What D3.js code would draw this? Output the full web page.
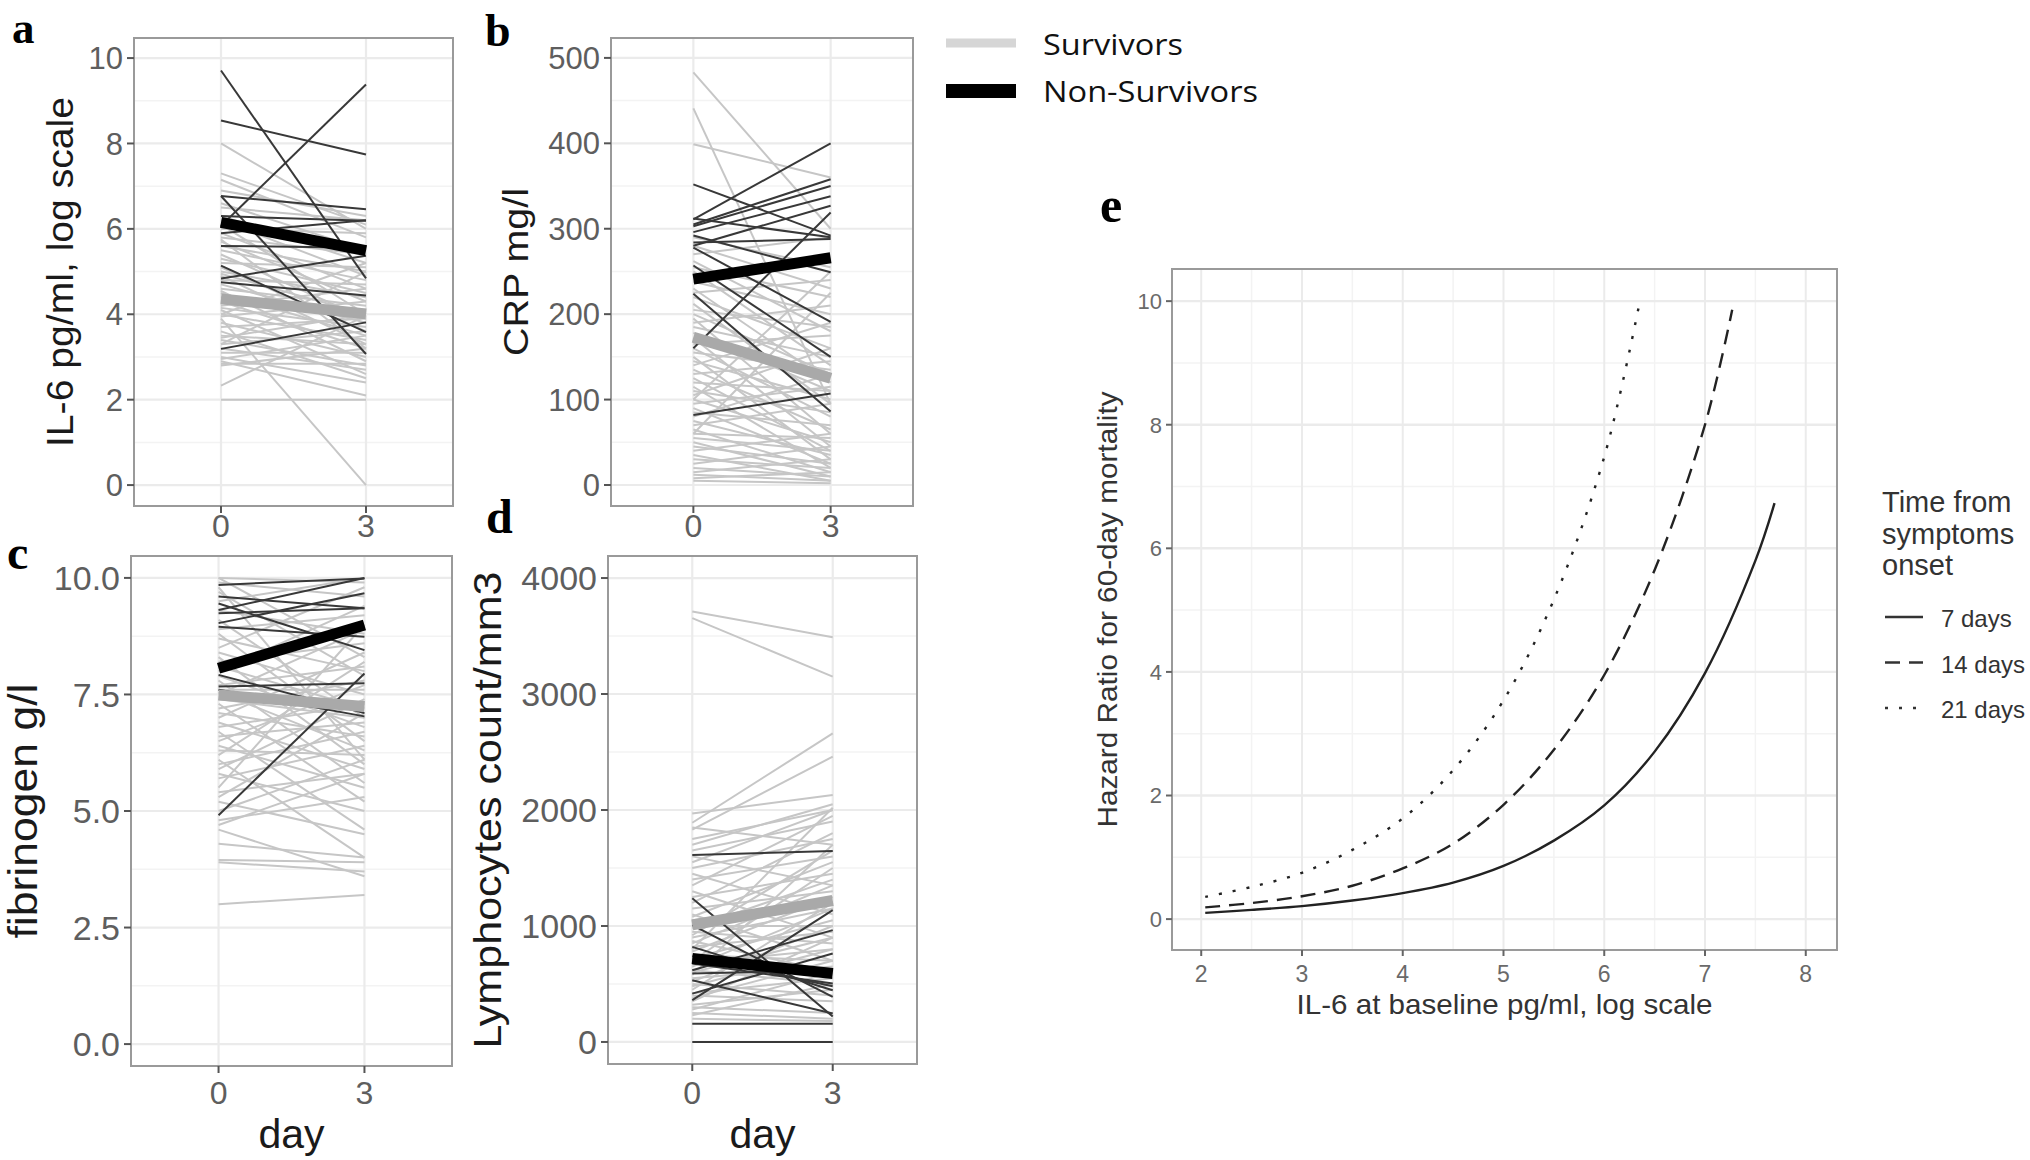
<!DOCTYPE html>
<html><head><meta charset="utf-8">
<script src="https://cdn.jsdelivr.net/npm/d3@7"></script>
<style>body{margin:0;background:#fff;} svg{display:block;}</style>
</head><body>
<svg id="chart" width="2030" height="1160"></svg>
<script>
// ---------------- DATA ----------------
const days = [0, 3];

// panel a: IL-6 pg/ml (log scale) [day0, day3]
const il6Survivors = [[8.0,6.0],[7.3,6.1],[7.15,5.8],[6.9,6.3],[6.6,5.5],[6.5,6.2],[6.3,5.2],[6.2,4.9],[6.0,5.9],[5.9,4.6],[5.8,5.4],[5.7,4.3],[5.6,5.0],[5.5,4.8],[5.4,3.9],[5.3,4.5],[5.2,5.1],[5.1,3.6],[5.0,4.4],[4.95,4.0],[4.9,3.3],[4.8,4.7],[4.7,3.8],[4.6,4.2],[4.55,2.9],[4.5,3.5],[4.4,4.1],[4.3,3.2],[4.2,4.6],[4.15,3.7],[4.1,2.6],[4.0,3.4],[3.95,4.3],[3.9,0.0],[3.8,3.0],[3.7,3.9],[3.6,2.5],[3.5,3.3],[3.45,4.0],[3.4,2.8],[3.3,3.6],[3.2,2.7],[3.1,3.1],[3.0,2.4],[2.95,3.5],[2.9,2.1],[2.84,2.84],[2.8,3.2],[2.33,3.97],[2.0,2.0],[5.75,3.2],[6.1,4.0],[4.0,5.2],[3.3,5.0]];
const il6NonSurvivors = [[9.71,4.84],[6.07,9.38],[8.54,7.74],[6.77,6.46],[6.77,3.07],[6.3,6.19],[5.6,5.56],[4.84,5.37],[4.75,4.44],[3.19,3.81],[5.14,3.58],[5.9,6.2]];
const il6SurvMean = [4.36, 4.01];
const il6NonSurvMean = [6.15, 5.49];
const il6Ticks = [0, 2, 4, 6, 8, 10];

// panel b: CRP mg/l
const crpSurvivors = [[483,300],[441,95],[399,360],[290,255],[280,230],[270,290],[262,180],[255,220],[250,140],[245,265],[238,200],[230,120],[225,240],[220,160],[212,95],[205,185],[200,130],[195,60],[190,210],[185,150],[178,110],[172,45],[165,175],[160,80],[155,135],[150,30],[145,100],[140,190],[135,65],[130,145],[125,40],[120,110],[115,20],[110,85],[105,160],[100,50],[95,115],[90,25],[85,70],[80,130],[75,35],[70,95],[65,15],[60,55],[55,40],[50,10],[45,25],[40,60],[35,5],[30,20],[25,45],[20,10],[15,30],[12,5],[8,15],[5,2],[60,225],[100,250]];
const crpNonSurvivors = [[352,292],[311,400],[305,358],[303,350],[296,338],[284,288],[280,327],[278,191],[257,150],[224,86],[160,319],[82,107],[292,249],[312,290]];
const crpSurvMean = [173, 125];
const crpNonSurvMean = [241, 266];
const crpTicks = [0, 100, 200, 300, 400, 500];

// panel c: fibrinogen g/l
const fibSurvivors = [[10.0,8.3],[9.9,9.6],[9.7,7.9],[9.5,10.0],[9.3,8.8],[9.1,7.0],[8.9,9.2],[8.8,6.5],[8.7,8.0],[8.5,9.8],[8.4,7.5],[8.3,6.0],[8.2,8.6],[8.1,7.2],[8.0,9.4],[7.9,6.8],[7.8,5.6],[7.7,8.1],[7.6,7.6],[7.55,6.3],[7.5,8.9],[7.4,7.0],[7.3,5.2],[7.2,7.8],[7.1,6.6],[7.0,8.4],[6.9,5.9],[6.8,7.3],[6.7,4.6],[6.6,6.9],[6.5,7.7],[6.4,5.5],[6.3,6.2],[6.2,8.2],[6.1,4.0],[6.0,6.7],[5.9,7.4],[5.8,5.0],[5.7,6.4],[5.5,9.0],[5.4,5.8],[5.3,7.1],[5.2,4.5],[5.0,6.1],[4.8,5.3],[4.7,5.8],[4.6,3.6],[4.3,4.0],[3.95,3.9],[3.9,3.7],[3.0,3.2],[9.8,6.1],[10.0,9.9]];
const fibNonSurvivors = [[4.91,7.95],[9.85,9.99],[9.6,9.35],[9.31,10.0],[9.03,9.67],[9.45,8.45],[7.67,7.74],[7.92,7.1],[9.24,9.35],[8.95,8.74],[7.6,7.03]];
const fibSurvMean = [7.49, 7.24];
const fibNonSurvMean = [8.06, 8.99];
const fibTicks = [0, 2.5, 5, 7.5, 10];

// panel d: Lymphocytes count/mm3
const lymSurvivors = [[3712,3490],[3655,3150],[1890,2660],[1970,2130],[1830,2460],[1850,1700],[1700,2050],[1650,1900],[1600,1350],[1550,2000],[1500,1750],[1450,1100],[1400,1600],[1350,1950],[1300,900],[1250,1450],[1200,1800],[1150,1300],[1100,700],[1080,1550],[1050,1200],[1000,1000],[980,1400],[950,850],[920,1650],[900,1150],[870,600],[850,1350],[820,950],[800,2020],[780,1250],[750,700],[720,1050],[700,1500],[680,800],[650,1150],[620,500],[600,900],[580,1700],[550,650],[520,1000],[500,400],[480,800],[450,1200],[420,550],[400,350],[380,700],[350,900],[320,450],[300,250],[280,600],[250,200],[230,500],[200,180],[1750,2000]];
const lymNonSurvivors = [[0,0],[158,158],[1612,1646],[1240,220],[360,1137],[1007,389],[619,964],[590,619],[532,245],[820,446],[676,504],[417,763],[740,480]];
const lymSurvMean = [1010, 1220];
const lymNonSurvMean = [720, 590];
const lymTicks = [0, 1000, 2000, 3000, 4000];

// panel e: hazard ratio curves
const hrXTicks = [2, 3, 4, 5, 6, 7, 8];
const hrYTicks = [0, 2, 4, 6, 8, 10];
const hr7x  = [2.04, 2.5, 3, 3.5, 4, 4.5, 5, 5.5, 6, 6.5, 7, 7.5, 7.69];
const hr7y  = [0.10, 0.15, 0.21, 0.30, 0.42, 0.59, 0.86, 1.27, 1.84, 2.71, 3.98, 5.80, 6.73];
const hr14x = [2.04, 2.5, 3, 3.5, 4, 4.5, 5, 5.5, 6, 6.5, 7, 7.27];
const hr14y = [0.19, 0.26, 0.37, 0.54, 0.82, 1.22, 1.85, 2.74, 3.95, 5.65, 8.0, 9.86];
const hr21x = [2.04, 2.5, 3, 3.5, 4, 4.5, 5, 5.5, 6, 6.35];
const hr21y = [0.36, 0.52, 0.75, 1.12, 1.63, 2.41, 3.54, 5.17, 7.48, 9.97];
const hrLegend = ["7 days", "14 days", "21 days"];

// ---------------- DRAW ----------------
const svg = d3.select("#chart");
const SANS = "'Liberation Sans', Arial, Helvetica, sans-serif";
const GRID_MAJ = "#ebebeb", GRID_MIN = "#f3f3f3", BORDER = "#9a9a9a";

function drawPanel(p) {
  const g = svg.append("g");
  const x = d3.scaleLinear().domain([-1.8, 4.8]).range([p.l, p.r]);
  const y = d3.scaleLinear().domain(p.yDom).range([p.b, p.t]);
  const step = p.ticks[1] - p.ticks[0];
  const minor = p.ticks.slice(0, -1).map(t => t + step / 2);
  g.selectAll(".mn").data(minor).enter().append("line")
    .attr("x1", p.l).attr("x2", p.r).attr("y1", d => y(d)).attr("y2", d => y(d))
    .attr("stroke", GRID_MIN).attr("stroke-width", 1.5);
  g.selectAll(".mj").data(p.ticks).enter().append("line")
    .attr("x1", p.l).attr("x2", p.r).attr("y1", d => y(d)).attr("y2", d => y(d))
    .attr("stroke", GRID_MAJ).attr("stroke-width", 2.2);
  g.selectAll(".mx").data(days).enter().append("line")
    .attr("y1", p.t).attr("y2", p.b).attr("x1", d => x(d)).attr("x2", d => x(d))
    .attr("stroke", GRID_MAJ).attr("stroke-width", 2.2);
  const seg = (arr) => "M" + x(days[0]) + "," + y(arr[0]) + "L" + x(days[1]) + "," + y(arr[1]);
  g.selectAll(".s").data(p.surv).enter().append("path").attr("d", seg)
    .attr("stroke", "#c6c6c6").attr("stroke-width", 2).attr("fill", "none");
  g.selectAll(".n").data(p.non).enter().append("path").attr("d", seg)
    .attr("stroke", "#383838").attr("stroke-width", 2).attr("fill", "none");
  g.append("path").attr("d", seg(p.survMean)).attr("stroke", "#a9a9a9").attr("stroke-width", 11).attr("fill", "none");
  g.append("path").attr("d", seg(p.nonMean)).attr("stroke", "#000").attr("stroke-width", 11).attr("fill", "none");
  g.append("rect").attr("x", p.l).attr("y", p.t).attr("width", p.r - p.l).attr("height", p.b - p.t)
    .attr("fill", "none").attr("stroke", BORDER).attr("stroke-width", 2);
  g.selectAll(".yt").data(p.ticks).enter().append("line")
    .attr("x1", p.l - 7).attr("x2", p.l).attr("y1", d => y(d)).attr("y2", d => y(d))
    .attr("stroke", "#555").attr("stroke-width", 2);
  g.selectAll(".yl").data(p.ticks).enter().append("text")
    .attr("x", p.l - 11).attr("y", d => y(d)).attr("dy", "0.36em")
    .attr("text-anchor", "end").attr("font-family", SANS).attr("font-size", p.ytSize)
    .attr("fill", "#5e5e5e").text(p.fmt);
  g.selectAll(".xt").data(days).enter().append("line")
    .attr("y1", p.b).attr("y2", p.b + 7).attr("x1", d => x(d)).attr("x2", d => x(d))
    .attr("stroke", "#555").attr("stroke-width", 2);
  g.selectAll(".xl").data(days).enter().append("text")
    .attr("x", d => x(d)).attr("y", p.xlY).attr("text-anchor", "middle")
    .attr("font-family", SANS).attr("font-size", 32).attr("fill", "#5e5e5e").text(d => d);
  g.append("text").attr("transform", `translate(${p.titleX},${(p.t + p.b) / 2}) rotate(-90)`)
    .attr("text-anchor", "middle").attr("font-family", SANS).attr("font-size", p.titleSize)
    .attr("textLength", p.titleLen).attr("lengthAdjust", "spacingAndGlyphs")
    .attr("fill", "#1a1a1a").text(p.title);
  if (p.day) {
    g.append("text").attr("x", (x(days[0]) + x(days[1])) / 2).attr("y", p.dayY)
      .attr("text-anchor", "middle").attr("font-family", SANS).attr("font-size", 41)
      .attr("fill", "#1a1a1a").text("day");
  }
  svg.append("text").attr("x", p.labX).attr("y", p.labY).attr("font-family", "'Liberation Serif', 'Times New Roman', serif")
    .attr("font-weight", "bold").attr("font-size", p.labSize).attr("fill", "#000").text(p.letter);
}

drawPanel({l:134, r:453, t:38, b:506, yDom:[-0.49, 10.47], ticks:il6Ticks, fmt:d3.format("d"), ytSize:31,
  surv:il6Survivors, non:il6NonSurvivors, survMean:il6SurvMean, nonMean:il6NonSurvMean,
  xlY:537, title:"IL-6 pg/ml, log scale", titleX:73, titleSize:36, titleLen:350, day:false,
  letter:"a", labX:12, labY:43, labSize:45});
drawPanel({l:611, r:913, t:38, b:506, yDom:[-24.6, 523.3], ticks:crpTicks, fmt:d3.format("d"), ytSize:31,
  surv:crpSurvivors, non:crpNonSurvivors, survMean:crpSurvMean, nonMean:crpNonSurvMean,
  xlY:537, title:"CRP mg/l", titleX:528, titleSize:35, titleLen:168, day:false,
  letter:"b", labX:485, labY:46, labSize:46});
drawPanel({l:131, r:452, t:556, b:1066, yDom:[-0.47, 10.47], ticks:fibTicks, fmt:d3.format(".1f"), ytSize:34,
  surv:fibSurvivors, non:fibNonSurvivors, survMean:fibSurvMean, nonMean:fibNonSurvMean,
  xlY:1104, title:"fibrinogen g/l", titleX:37, titleSize:41, titleLen:255, day:true, dayY:1148,
  letter:"c", labX:7, labY:569, labSize:48});
drawPanel({l:608, r:917, t:556, b:1064, yDom:[-190, 4190], ticks:lymTicks, fmt:d3.format("d"), ytSize:34,
  surv:lymSurvivors, non:lymNonSurvivors, survMean:lymSurvMean, nonMean:lymNonSurvMean,
  xlY:1104, title:"Lymphocytes count/mm3", titleX:501, titleSize:39, titleLen:477, day:true, dayY:1148,
  letter:"d", labX:486, labY:533, labSize:48});

// legend for a-d
const legAD = [{name:"Survivors", color:"#d6d6d6", w:9, y:43, ty:55, len:140},
               {name:"Non-Survivors", color:"#000", w:14, y:91, ty:102, len:215}];
const lg = svg.append("g");
lg.selectAll("line").data(legAD).enter().append("line")
  .attr("x1", 946).attr("x2", 1016).attr("y1", d => d.y).attr("y2", d => d.y)
  .attr("stroke", d => d.color).attr("stroke-width", d => d.w);
lg.selectAll("text").data(legAD).enter().append("text")
  .attr("x", 1043).attr("y", d => d.ty).attr("font-family", "'Open Sans', 'Noto Sans', sans-serif")
  .attr("font-size", 29).attr("textLength", d => d.len).attr("lengthAdjust", "spacingAndGlyphs")
  .attr("fill", "#111").text(d => d.name);

// ---------------- PANEL E ----------------
const E = {l:1172, r:1837, t:269, b:950};
const ex = d3.scaleLinear().domain([1.71, 8.31]).range([E.l, E.r]);
const ey = d3.scaleLinear().domain([-0.5, 10.52]).range([E.b, E.t]);
const ge = svg.append("g");
const exMinor = hrXTicks.slice(0, -1).map(t => t + 0.5);
const eyMinor = hrYTicks.slice(0, -1).map(t => t + 1);
ge.selectAll(".xm").data(exMinor).enter().append("line")
  .attr("x1", d => ex(d)).attr("x2", d => ex(d)).attr("y1", E.t).attr("y2", E.b)
  .attr("stroke", GRID_MIN).attr("stroke-width", 1.5);
ge.selectAll(".ym").data(eyMinor).enter().append("line")
  .attr("y1", d => ey(d)).attr("y2", d => ey(d)).attr("x1", E.l).attr("x2", E.r)
  .attr("stroke", GRID_MIN).attr("stroke-width", 1.5);
ge.selectAll(".xM").data(hrXTicks).enter().append("line")
  .attr("x1", d => ex(d)).attr("x2", d => ex(d)).attr("y1", E.t).attr("y2", E.b)
  .attr("stroke", GRID_MAJ).attr("stroke-width", 2);
ge.selectAll(".yM").data(hrYTicks).enter().append("line")
  .attr("y1", d => ey(d)).attr("y2", d => ey(d)).attr("x1", E.l).attr("x2", E.r)
  .attr("stroke", GRID_MAJ).attr("stroke-width", 2.4);

const curves = [
  {xs:hr7x, ys:hr7y, dash:null},
  {xs:hr14x, ys:hr14y, dash:"15,9"},
  {xs:hr21x, ys:hr21y, dash:"3,11"}
];
const lineGen = d3.line().x(d => ex(d[0])).y(d => ey(d[1])).curve(d3.curveCatmullRom.alpha(0.5));
curves.forEach(c => {
  ge.append("path").attr("d", lineGen(c.xs.map((v, i) => [v, c.ys[i]])))
    .attr("fill", "none").attr("stroke", "#222").attr("stroke-width", 2.4)
    .attr("stroke-dasharray", c.dash);
});
ge.append("rect").attr("x", E.l).attr("y", E.t).attr("width", E.r - E.l).attr("height", E.b - E.t)
  .attr("fill", "none").attr("stroke", BORDER).attr("stroke-width", 2);
ge.selectAll(".ytk").data(hrYTicks).enter().append("line")
  .attr("x1", E.l - 6).attr("x2", E.l).attr("y1", d => ey(d)).attr("y2", d => ey(d))
  .attr("stroke", "#666").attr("stroke-width", 2);
ge.selectAll(".ylb").data(hrYTicks).enter().append("text")
  .attr("x", E.l - 10).attr("y", d => ey(d)).attr("dy", "0.36em").attr("text-anchor", "end")
  .attr("font-family", SANS).attr("font-size", 22).attr("fill", "#6a6a6a").text(d => d);
ge.selectAll(".xtk").data(hrXTicks).enter().append("line")
  .attr("y1", E.b).attr("y2", E.b + 6).attr("x1", d => ex(d)).attr("x2", d => ex(d))
  .attr("stroke", "#666").attr("stroke-width", 2);
ge.selectAll(".xlb").data(hrXTicks).enter().append("text")
  .attr("x", d => ex(d)).attr("y", 982).attr("text-anchor", "middle")
  .attr("font-family", SANS).attr("font-size", 23).attr("fill", "#6a6a6a").text(d => d);
ge.append("text").attr("x", (E.l + E.r) / 2).attr("y", 1014).attr("text-anchor", "middle")
  .attr("font-family", SANS).attr("font-size", 28).attr("textLength", 416).attr("lengthAdjust", "spacingAndGlyphs")
  .attr("fill", "#333").text("IL-6 at baseline pg/ml, log scale");
ge.append("text").attr("transform", `translate(1117,${(E.t + E.b) / 2}) rotate(-90)`)
  .attr("text-anchor", "middle").attr("font-family", SANS).attr("font-size", 28)
  .attr("textLength", 436).attr("lengthAdjust", "spacingAndGlyphs")
  .attr("fill", "#333").text("Hazard Ratio for 60-day mortality");
svg.append("text").attr("x", 1100).attr("y", 222).attr("font-family", "'Liberation Serif', 'Times New Roman', serif")
  .attr("font-weight", "bold").attr("font-size", 50).attr("fill", "#000").text("e");

// legend e
const le = svg.append("g");
["Time from", "symptoms", "onset"].forEach((t, i) => {
  le.append("text").attr("x", 1882).attr("y", 512 + i * 31.6).attr("font-family", SANS)
    .attr("font-size", 29).attr("fill", "#333").text(t);
});
const legRows = hrLegend.map((name, i) => ({name, dash:curves[i].dash, y:617 + i * 45.5}));
le.selectAll(".k").data(legRows).enter().append("line")
  .attr("x1", 1885).attr("x2", 1923).attr("y1", d => d.y).attr("y2", d => d.y)
  .attr("stroke", "#333").attr("stroke-width", 2.4).attr("stroke-dasharray", d => d.dash);
le.selectAll(".kt").data(legRows).enter().append("text")
  .attr("x", 1941).attr("y", d => d.y + 10).attr("font-family", SANS).attr("font-size", 24)
  .attr("fill", "#333").text(d => d.name);
</script>
</body></html>
